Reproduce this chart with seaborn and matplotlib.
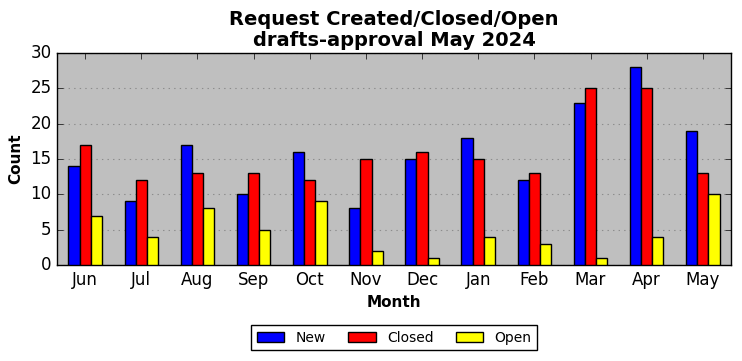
import matplotlib
matplotlib.use("Agg")
import matplotlib.pyplot as plt
import seaborn as sns
import pandas as pd

months = ["Jun", "Jul", "Aug", "Sep", "Oct", "Nov", "Dec", "Jan", "Feb", "Mar", "Apr", "May"]
new_vals = [14, 9, 17, 10, 16, 8, 15, 18, 12, 23, 28, 19]
closed_vals = [17, 12, 13, 13, 12, 15, 16, 15, 13, 25, 25, 13]
open_vals = [7, 4, 8, 5, 9, 2, 1, 4, 3, 1, 4, 10]
series = ["New", "Closed", "Open"]
colors = ["#0000ff", "#ff0000", "#ffff00"]

plt.style.use("classic")
plt.rcParams["font.family"] = ["DejaVu Sans"]

df = pd.DataFrame({
    "Month": months * 3,
    "Count": new_vals + closed_vals + open_vals,
    "Type": ["New"] * 12 + ["Closed"] * 12 + ["Open"] * 12,
})

fig = plt.figure(figsize=(7.42, 3.61), dpi=100)
ax = fig.add_axes([0.077, 0.266, 0.908, 0.587])
ax.set_facecolor("#bfbfbf")
sns.barplot(data=df, x="Month", y="Count", hue="Type", hue_order=series,
            order=months, palette=colors, width=0.6, edgecolor="black",
            linewidth=1, saturation=1, ax=ax, zorder=3)
ax.set_xlim(-0.5, 11.5)
ax.set_ylim(0, 30)
ax.set_yticks([0, 5, 10, 15, 20, 25, 30])
ax.yaxis.grid(True, linestyle=":", color="#8c8c8c", linewidth=0.8, zorder=0)
ax.xaxis.grid(False)
ax.set_axisbelow(True)
ax.tick_params(labelsize=12)
ax.set_xlabel("Month", fontsize=11, fontweight="bold")
ax.set_ylabel("Count", fontsize=11, fontweight="bold")
ax.set_title("Request Created/Closed/Open\ndrafts-approval May 2024",
             fontsize=14, fontweight="bold", linespacing=1.15)
leg = ax.legend(loc="center", bbox_to_anchor=(0.5, -0.344),
                ncol=3, fontsize=10, frameon=True, fancybox=False, columnspacing=1.6)
leg.get_frame().set_edgecolor("black")
fig.savefig("out.png", dpi=100)
